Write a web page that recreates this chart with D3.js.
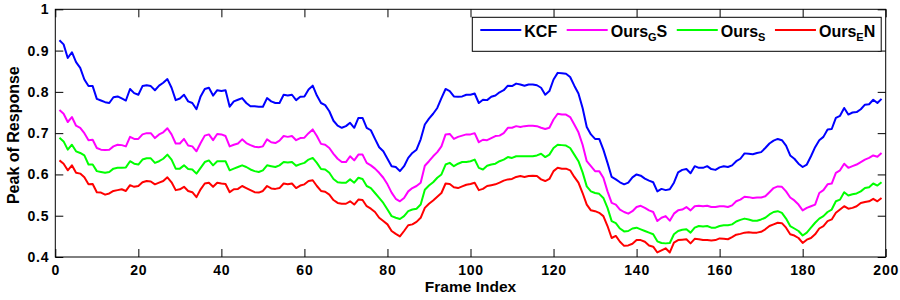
<!DOCTYPE html>
<html>
<head>
<meta charset="utf-8">
<script src="https://cdn.jsdelivr.net/npm/d3@7"></script>
<style>
  body { margin: 0; background: #fff; }
  text { font-family: "Liberation Sans", Arial, sans-serif; fill: #000; }
</style>
</head>
<body>
<div id="chart"></div>
<script>

// values, frames 1..199
var kcf = [
  0.925,0.915,0.882,0.896,0.872,0.858,0.830,0.814,0.814,0.783,
  0.779,0.775,0.773,0.787,0.789,0.784,0.779,0.807,0.797,0.793,
  0.814,0.816,0.814,0.804,0.815,0.822,0.831,0.810,0.780,0.784,
  0.793,0.777,0.773,0.758,0.789,0.807,0.810,0.791,0.804,0.802,
  0.804,0.764,0.777,0.781,0.785,0.773,0.765,0.765,0.764,0.764,
  0.785,0.777,0.773,0.773,0.793,0.791,0.793,0.780,0.788,0.789,
  0.806,0.815,0.791,0.773,0.768,0.753,0.730,0.718,0.713,0.717,
  0.725,0.713,0.737,0.737,0.713,0.707,0.686,0.666,0.656,0.638,
  0.620,0.618,0.608,0.620,0.640,0.652,0.660,0.685,0.721,0.735,
  0.747,0.761,0.785,0.807,0.802,0.789,0.788,0.789,0.793,0.793,
  0.796,0.773,0.781,0.780,0.788,0.791,0.799,0.804,0.815,0.814,
  0.820,0.818,0.815,0.818,0.818,0.816,0.810,0.793,0.802,0.830,
  0.846,0.845,0.844,0.836,0.815,0.796,0.761,0.715,0.697,0.686,
  0.686,0.660,0.628,0.594,0.588,0.581,0.576,0.580,0.593,0.600,
  0.597,0.590,0.585,0.581,0.559,0.565,0.562,0.564,0.580,0.605,
  0.611,0.613,0.603,0.620,0.616,0.616,0.620,0.613,0.611,0.617,
  0.620,0.618,0.622,0.632,0.638,0.651,0.650,0.649,0.652,0.654,
  0.664,0.675,0.682,0.686,0.683,0.670,0.646,0.638,0.626,0.618,
  0.624,0.644,0.666,0.683,0.691,0.709,0.710,0.737,0.742,0.761,
  0.745,0.750,0.751,0.758,0.769,0.770,0.781,0.773,0.783
];

var oursGS = [
  0.756,0.747,0.727,0.739,0.718,0.713,0.700,0.683,0.684,0.664,
  0.660,0.659,0.660,0.668,0.672,0.671,0.668,0.691,0.686,0.686,
  0.697,0.700,0.700,0.688,0.697,0.702,0.712,0.697,0.675,0.675,
  0.686,0.670,0.668,0.656,0.676,0.694,0.697,0.683,0.698,0.697,
  0.693,0.668,0.672,0.675,0.685,0.676,0.671,0.667,0.666,0.668,
  0.685,0.678,0.676,0.682,0.693,0.691,0.693,0.683,0.688,0.689,
  0.700,0.709,0.693,0.674,0.672,0.664,0.650,0.638,0.630,0.630,
  0.644,0.634,0.648,0.648,0.628,0.622,0.614,0.604,0.592,0.576,
  0.556,0.541,0.535,0.543,0.559,0.567,0.572,0.580,0.621,0.632,
  0.644,0.654,0.668,0.697,0.698,0.686,0.691,0.694,0.697,0.697,
  0.700,0.678,0.684,0.683,0.688,0.693,0.694,0.700,0.713,0.713,
  0.717,0.715,0.717,0.718,0.718,0.717,0.713,0.710,0.713,0.733,
  0.747,0.745,0.745,0.739,0.721,0.702,0.672,0.632,0.620,0.608,
  0.608,0.592,0.559,0.531,0.527,0.515,0.509,0.505,0.511,0.521,
  0.524,0.519,0.513,0.509,0.487,0.495,0.499,0.488,0.505,0.513,
  0.515,0.521,0.513,0.523,0.524,0.523,0.524,0.521,0.521,0.523,
  0.523,0.521,0.525,0.535,0.539,0.546,0.545,0.543,0.544,0.544,
  0.547,0.557,0.567,0.571,0.570,0.559,0.544,0.537,0.527,0.513,
  0.519,0.523,0.527,0.555,0.562,0.576,0.578,0.604,0.610,0.626,
  0.616,0.620,0.624,0.630,0.636,0.640,0.646,0.643,0.652
];

var oursS = [
  0.689,0.680,0.660,0.672,0.656,0.652,0.646,0.624,0.624,0.608,
  0.606,0.604,0.606,0.614,0.616,0.616,0.617,0.632,0.626,0.624,
  0.636,0.639,0.639,0.628,0.632,0.638,0.648,0.636,0.614,0.614,
  0.622,0.613,0.612,0.602,0.616,0.630,0.634,0.622,0.632,0.632,
  0.632,0.610,0.614,0.618,0.622,0.618,0.612,0.608,0.606,0.610,
  0.622,0.620,0.618,0.622,0.630,0.629,0.630,0.621,0.625,0.628,
  0.636,0.640,0.628,0.613,0.612,0.604,0.589,0.581,0.580,0.580,
  0.588,0.580,0.592,0.589,0.572,0.567,0.555,0.543,0.531,0.515,
  0.499,0.495,0.492,0.499,0.511,0.515,0.517,0.527,0.563,0.573,
  0.581,0.592,0.600,0.624,0.628,0.620,0.626,0.630,0.630,0.632,
  0.636,0.616,0.612,0.621,0.624,0.626,0.632,0.636,0.642,0.640,
  0.644,0.644,0.644,0.644,0.644,0.646,0.650,0.642,0.648,0.664,
  0.672,0.671,0.670,0.664,0.648,0.632,0.605,0.571,0.559,0.555,
  0.553,0.543,0.519,0.487,0.482,0.469,0.462,0.463,0.469,0.471,
  0.467,0.463,0.459,0.455,0.438,0.434,0.433,0.434,0.455,0.463,
  0.466,0.467,0.459,0.471,0.475,0.474,0.475,0.471,0.471,0.475,
  0.477,0.477,0.479,0.486,0.490,0.493,0.491,0.488,0.488,0.491,
  0.495,0.503,0.509,0.511,0.507,0.493,0.475,0.469,0.463,0.452,
  0.459,0.471,0.483,0.493,0.499,0.509,0.515,0.535,0.539,0.557,
  0.549,0.552,0.554,0.559,0.567,0.569,0.578,0.573,0.581
];

var oursEN = [
  0.634,0.626,0.610,0.622,0.604,0.602,0.593,0.576,0.577,0.557,
  0.556,0.551,0.554,0.560,0.562,0.564,0.560,0.574,0.570,0.572,
  0.581,0.584,0.583,0.576,0.580,0.584,0.593,0.581,0.562,0.564,
  0.570,0.560,0.557,0.545,0.564,0.578,0.580,0.570,0.580,0.578,
  0.577,0.557,0.564,0.565,0.572,0.567,0.562,0.557,0.556,0.560,
  0.572,0.566,0.565,0.567,0.578,0.576,0.578,0.567,0.573,0.576,
  0.584,0.586,0.572,0.560,0.558,0.551,0.538,0.531,0.529,0.529,
  0.535,0.527,0.539,0.538,0.523,0.517,0.509,0.495,0.487,0.479,
  0.463,0.456,0.450,0.463,0.477,0.479,0.485,0.495,0.519,0.529,
  0.537,0.546,0.555,0.578,0.577,0.569,0.567,0.571,0.575,0.577,
  0.580,0.562,0.565,0.572,0.574,0.576,0.580,0.585,0.588,0.589,
  0.594,0.596,0.594,0.596,0.597,0.596,0.588,0.584,0.589,0.608,
  0.616,0.614,0.614,0.610,0.594,0.580,0.555,0.527,0.513,0.511,
  0.507,0.499,0.475,0.446,0.451,0.437,0.427,0.428,0.432,0.441,
  0.441,0.437,0.428,0.425,0.411,0.416,0.421,0.411,0.435,0.441,
  0.442,0.443,0.433,0.444,0.443,0.441,0.441,0.440,0.441,0.445,
  0.444,0.443,0.448,0.454,0.456,0.459,0.460,0.459,0.459,0.461,
  0.467,0.475,0.479,0.483,0.482,0.471,0.455,0.452,0.446,0.434,
  0.442,0.446,0.455,0.469,0.475,0.487,0.491,0.507,0.515,0.523,
  0.517,0.519,0.523,0.531,0.533,0.535,0.541,0.535,0.543
];

var xTicks = [0, 20, 40, 60, 80, 100, 120, 140, 160, 180, 200];
var yTicks = [0.4, 0.5, 0.6, 0.7, 0.8, 0.9, 1];

// legend: main label, subscript, trailing text
var seriesNames = [["KCF", "", ""], ["Ours", "G", "S"], ["Ours", "S", ""], ["Ours", "E", "N"]];
var seriesColors = ["#0000ff", "#ff00ff", "#00ff00", "#ff0000"];
var seriesData = [kcf, oursGS, oursS, oursEN];

var W = 900, H = 300;
var margin = {top: 9.3, right: 14.3, bottom: 43, left: 55.3},
    width = W - margin.left - margin.right,
    height = H - margin.top - margin.bottom;

var x = d3.scaleLinear().domain([0, 200]).range([0, width]);
var y = d3.scaleLinear().domain([0.4, 1]).range([height, 0]);

var svg = d3.select("#chart").append("svg")
    .attr("width", W)
    .attr("height", H)
  .append("g")
    .attr("transform", "translate(" + margin.left + "," + margin.top + ")");

// lines
var line = d3.line()
    .x(function(d, i) { return x(i + 1); })
    .y(function(d) { return y(d); });

seriesData.forEach(function(s, k) {
  svg.append("path")
      .datum(s)
      .attr("fill", "none")
      .attr("stroke", seriesColors[k])
      .attr("stroke-width", 2)
      .attr("stroke-linejoin", "round")
      .attr("d", line);
});

// axes, ticks pointing inwards on all four sides
var tickFont = function(g) {
  g.selectAll("text")
    .style("font-size", "14px")
    .style("font-weight", "bold")
    .style("letter-spacing", "0.8px");
  g.select(".domain").remove();
  g.selectAll("line").attr("stroke", "#000");
};

svg.append("g")
    .attr("transform", "translate(0," + height + ")")
    .call(d3.axisBottom(x).tickValues(xTicks).tickFormat(d3.format("d"))
      .tickSizeInner(-8).tickSizeOuter(0).tickPadding(8))
    .call(tickFont);

svg.append("g")
    .call(d3.axisLeft(y).tickValues(yTicks).tickFormat(function(d) { return d === 1 ? "1" : d3.format(".1f")(d); })
      .tickSizeInner(-8).tickSizeOuter(0).tickPadding(6))
    .call(tickFont);

svg.append("g")
    .call(d3.axisTop(x).tickValues(xTicks).tickFormat("")
      .tickSizeInner(-8).tickSizeOuter(0))
    .call(tickFont);

svg.append("g")
    .attr("transform", "translate(" + width + ",0)")
    .call(d3.axisRight(y).tickValues(yTicks).tickFormat("")
      .tickSizeInner(-8).tickSizeOuter(0))
    .call(tickFont);

svg.append("rect")
    .attr("width", width)
    .attr("height", height)
    .attr("fill", "none")
    .attr("stroke", "#000")
    .attr("stroke-width", 1);

// axis labels
svg.append("text")
    .attr("x", width / 2)
    .attr("y", height + 35)
    .attr("text-anchor", "middle")
    .style("font-size", "15.5px")
    .style("font-weight", "bold")
    .text("Frame Index");

svg.append("text")
    .attr("transform", "translate(" + (18.5 - margin.left) + "," + (height / 2 + 2) + ") rotate(-90)")
    .attr("text-anchor", "middle")
    .style("font-size", "16px")
    .style("font-weight", "bold")
    .text("Peak of Response");

// legend
var legend = svg.append("g")
    .attr("transform", "translate(" + (472.3 - margin.left) + "," + (17.3 - margin.top) + ")");

var box = legend.append("rect")
    .attr("height", 34)
    .attr("fill", "#fff")
    .attr("stroke", "#000")
    .attr("stroke-width", 1);

var lx = 8;
seriesNames.forEach(function(n, k) {
  legend.append("line")
      .attr("x1", lx).attr("x2", lx + 41)
      .attr("y1", 12.7).attr("y2", 12.7)
      .attr("stroke", seriesColors[k])
      .attr("stroke-width", 2);
  var t = legend.append("text")
      .attr("x", lx + 44)
      .attr("y", 20)
      .style("font-size", "16px")
      .style("font-weight", "bold");
  t.append("tspan").text(n[0]);
  if (n[1]) {
    t.append("tspan").attr("dy", 4).style("font-size", "11px").text(n[1]);
    if (n[2]) t.append("tspan").attr("dy", -4).text(n[2]);
  }
  lx = lx + 44 + t.node().getComputedTextLength() + 9.5;
});
box.attr("width", lx - 9.5 + 6);

</script>
</body>
</html>
